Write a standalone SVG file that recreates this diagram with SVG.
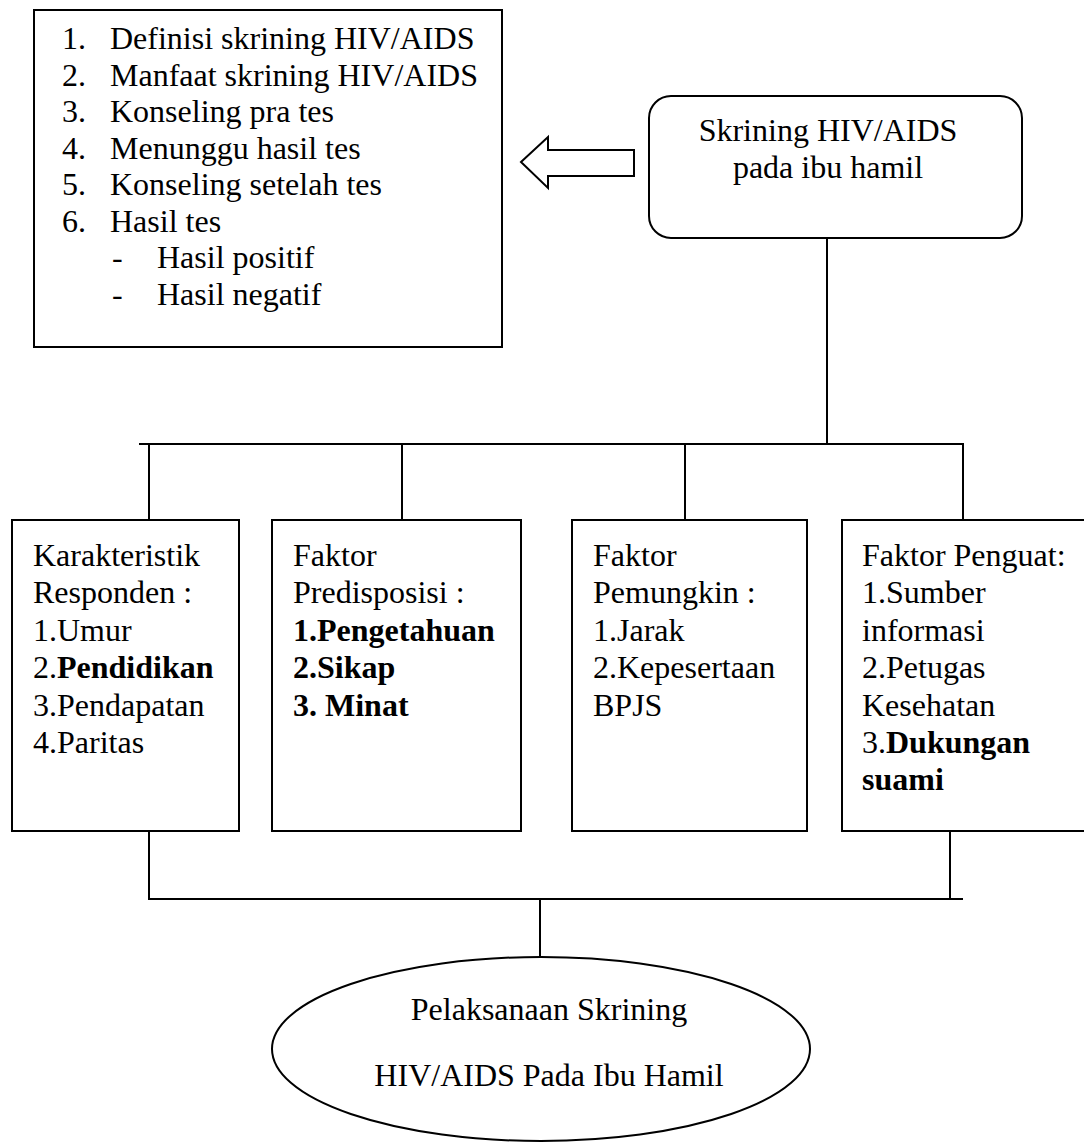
<svg xmlns="http://www.w3.org/2000/svg" width="1084" height="1142" viewBox="0 0 1084 1142">
<style>
text{font-family:"Liberation Serif","Times New Roman",serif;font-size:32px;fill:#000}
.b{font-weight:bold}
.box{fill:#fff;stroke:#000;stroke-width:2}
.ln{fill:none;stroke:#000;stroke-width:2}
.c{text-anchor:middle}
</style>
<rect width="1084" height="1142" fill="#fff"/>
<g id="connectors">
<line class="ln" x1="827" y1="238" x2="827" y2="444"/>
<line class="ln" x1="139" y1="444" x2="964" y2="444"/>
<line class="ln" x1="149" y1="444" x2="149" y2="520"/>
<line class="ln" x1="402" y1="444" x2="402" y2="520"/>
<line class="ln" x1="685" y1="444" x2="685" y2="520"/>
<line class="ln" x1="963" y1="444" x2="963" y2="520"/>
<line class="ln" x1="149" y1="831" x2="149" y2="899"/>
<line class="ln" x1="950" y1="831" x2="950" y2="899"/>
<line class="ln" x1="148" y1="899" x2="963" y2="899"/>
<line class="ln" x1="540" y1="899" x2="540" y2="957"/>
<polygon class="box" points="521,162 548,137 548,150 634,150 634,176 548,176 548,188"/>
</g>
<g id="list-box">
<rect class="box" x="34" y="10" width="468" height="337"/>
<text x="62" y="49">1.</text><text x="110" y="49">Definisi skrining HIV/AIDS</text>
<text x="62" y="86">2.</text><text x="110" y="86">Manfaat skrining HIV/AIDS</text>
<text x="62" y="122">3.</text><text x="110" y="122">Konseling pra tes</text>
<text x="62" y="159">4.</text><text x="110" y="159">Menunggu hasil tes</text>
<text x="62" y="195">5.</text><text x="110" y="195">Konseling setelah tes</text>
<text x="62" y="232">6.</text><text x="110" y="232">Hasil tes</text>
<text x="112" y="268">-</text><text x="157" y="268">Hasil positif</text>
<text x="112" y="305">-</text><text x="157" y="305">Hasil negatif</text>
</g>
<g id="skrining">
<rect class="box" x="649" y="96" width="373" height="142" rx="22" ry="22"/>
<text class="c" x="828" y="141">Skrining HIV/AIDS</text>
<text class="c" x="828" y="178">pada ibu hamil</text>
</g>
<g id="karakteristik">
<rect class="box" x="12" y="520" width="227" height="311"/>
<text x="33" y="566">Karakteristik</text>
<text x="33" y="603">Responden :</text>
<text x="33" y="641">1.Umur</text>
<text x="33" y="678">2.<tspan class="b">Pendidikan</tspan></text>
<text x="33" y="716">3.Pendapatan</text>
<text x="33" y="753">4.Paritas</text>
</g>
<g id="predisposisi">
<rect class="box" x="272" y="520" width="249" height="311"/>
<text x="293" y="566">Faktor</text>
<text x="293" y="603">Predisposisi :</text>
<text class="b" x="293" y="641">1.Pengetahuan</text>
<text class="b" x="293" y="678">2.Sikap</text>
<text class="b" x="293" y="716">3. Minat</text>
</g>
<g id="pemungkin">
<rect class="box" x="572" y="520" width="235" height="311"/>
<text x="593" y="566">Faktor</text>
<text x="593" y="603">Pemungkin :</text>
<text x="593" y="641">1.Jarak</text>
<text x="593" y="678">2.Kepesertaan</text>
<text x="593" y="716">BPJS</text>
</g>
<g id="penguat">
<rect class="box" x="842" y="520" width="250" height="311"/>
<text x="862" y="566">Faktor Penguat:</text>
<text x="862" y="603">1.Sumber</text>
<text x="862" y="641">informasi</text>
<text x="862" y="678">2.Petugas</text>
<text x="862" y="716">Kesehatan</text>
<text x="862" y="753">3.<tspan class="b">Dukungan</tspan></text>
<text class="b" x="862" y="790">suami</text>
</g>
<g id="pelaksanaan">
<ellipse class="box" cx="541" cy="1049" rx="269" ry="92"/>
<text class="c" x="549" y="1020">Pelaksanaan Skrining</text>
<text class="c" x="549" y="1086">HIV/AIDS Pada Ibu Hamil</text>
</g>
</svg>
